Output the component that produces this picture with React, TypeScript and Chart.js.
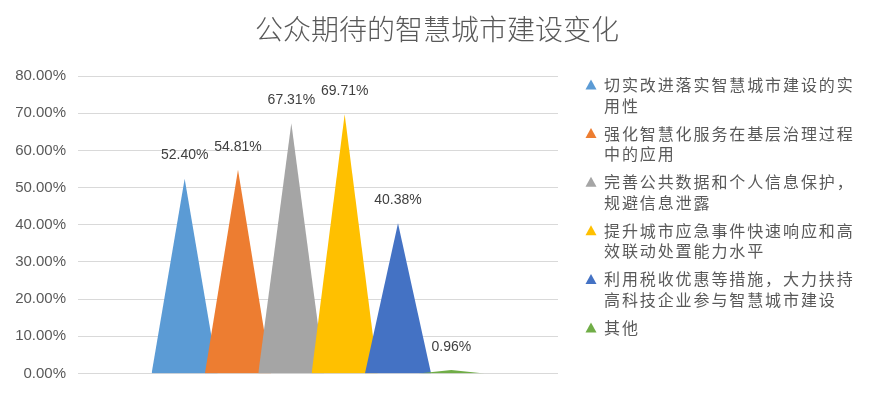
import React, { useEffect, useRef } from "react";
import { Chart, registerables } from "chart.js";

Chart.register(...registerables);

const TITLE = "公众期待的智慧城市建设变化";

const seriesNames = [
  "切实改进落实智慧城市建设的实用性",
  "强化智慧化服务在基层治理过程中的应用",
  "完善公共数据和个人信息保护，规避信息泄露",
  "提升城市应急事件快速响应和高效联动处置能力水平",
  "利用税收优惠等措施，大力扶持高科技企业参与智慧城市建设",
  "其他",
];

const seriesValues = [52.4, 54.81, 67.31, 69.71, 40.38, 0.96];

const yMin = 0;
const yMax = 80;
const yStep = 10;

const seriesColors = ["#5B9BD5", "#ED7D31", "#A5A5A5", "#FFC000", "#4472C4", "#70AD47"];

const CJK_FONT = '"Noto Sans CJK SC", "Noto Sans", sans-serif';
const NUM_FONT = '"Liberation Sans", Arial, sans-serif';

export default function App() {
  const ref = useRef<HTMLCanvasElement | null>(null);

  useEffect(() => {
    const canvas = ref.current;
    if (!canvas) return;

    const HALF = 0.62;
    const datasets = seriesValues.map((v, i) => ({
      label: seriesNames[i],
      data: [
        { x: i - HALF, y: 0 },
        { x: i, y: v },
        { x: i + HALF, y: 0 },
      ],
      backgroundColor: seriesColors[i],
      borderColor: seriesColors[i],
      borderWidth: 0,
      pointRadius: 0,
      pointHoverRadius: 0,
      fill: "origin",
      tension: 0,
      order: seriesValues.length - i,
    }));

    const titlePlugin = {
      id: "centerTitle",
      afterDraw(chart: any) {
        const ctx = chart.ctx;
        ctx.save();
        ctx.font = `300 28px ${CJK_FONT}`;
        ctx.fillStyle = "#595959";
        ctx.textAlign = "center";
        ctx.textBaseline = "middle";
        ctx.fillText(TITLE, chart.width / 2, 29);
        ctx.restore();
      },
    };

    const valueLabels = {
      id: "valueLabels",
      afterDatasetsDraw(chart: any) {
        const ctx = chart.ctx;
        ctx.save();
        ctx.font = `14px ${NUM_FONT}`;
        ctx.fillStyle = "#404040";
        ctx.textAlign = "center";
        ctx.textBaseline = "middle";
        chart.data.datasets.forEach((ds: any, i: number) => {
          const meta = chart.getDatasetMeta(i);
          const pt = meta.data[1];
          if (!pt) return;
          ctx.fillText(seriesValues[i].toFixed(2) + "%", pt.x, pt.y - 23);
        });
        ctx.restore();
      },
    };

    const sideLegend = {
      id: "sideLegend",
      afterDraw(chart: any) {
        const ctx = chart.ctx;
        ctx.save();
        ctx.font = `16px ${CJK_FONT}`;
        try {
          (ctx as any).letterSpacing = "1.9px";
        } catch (e) {}
        ctx.textAlign = "left";
        ctx.textBaseline = "middle";
        const maxW = 258;
        const lineH = 20.5;
        const gap = 7.6;
        const markX = 591;
        const textX = 604;
        let y = 85;
        seriesNames.forEach((name, i) => {
          const lines: string[] = [];
          let cur = "";
          for (const ch of Array.from(name)) {
            const test = cur + ch;
            if (cur && ctx.measureText(test).width > maxW) {
              lines.push(cur);
              cur = ch;
            } else {
              cur = test;
            }
          }
          if (cur) lines.push(cur);
          ctx.fillStyle = seriesColors[i];
          ctx.beginPath();
          ctx.moveTo(markX, y - 5.5);
          ctx.lineTo(markX + 5.5, y + 4.5);
          ctx.lineTo(markX - 5.5, y + 4.5);
          ctx.closePath();
          ctx.fill();
          ctx.fillStyle = "#595959";
          lines.forEach((ln, k) => {
            ctx.fillText(ln, textX, y + k * lineH);
          });
          y += lines.length * lineH + gap;
        });
        ctx.restore();
      },
    };

    const chart = new Chart(canvas, {
      type: "line",
      data: { datasets: datasets as any },
      options: {
        responsive: false,
        animation: false,
        events: [],
        devicePixelRatio: 1,
        layout: {
          padding: { top: 76, bottom: 22.5, left: 0, right: 316 },
        },
        plugins: {
          legend: { display: false },
          tooltip: { enabled: false },
          title: { display: false },
        },
        scales: {
          x: {
            type: "linear",
            min: -2,
            max: 7,
            display: false,
          },
          y: {
            min: yMin,
            max: yMax,
            afterFit(scale: any) {
              scale.width = 78;
            },
            ticks: {
              stepSize: yStep,
              padding: 12,
              color: "#595959",
              font: { family: NUM_FONT, size: 15 },
              callback: (v: any) => Number(v).toFixed(2) + "%",
            },
            grid: {
              color: "#D9D9D9",
              lineWidth: 1,
              drawTicks: false,
            },
            border: { display: false },
          },
        },
      },
      plugins: [titlePlugin, valueLabels, sideLegend],
    });

    return () => chart.destroy();
  }, []);

  return (
    <div
      style={{
        position: "fixed",
        left: 0,
        top: 0,
        width: 874,
        height: 396,
        background: "#ffffff",
      }}
    >
      <canvas ref={ref} width={874} height={396} style={{ display: "block" }} />
    </div>
  );
}
